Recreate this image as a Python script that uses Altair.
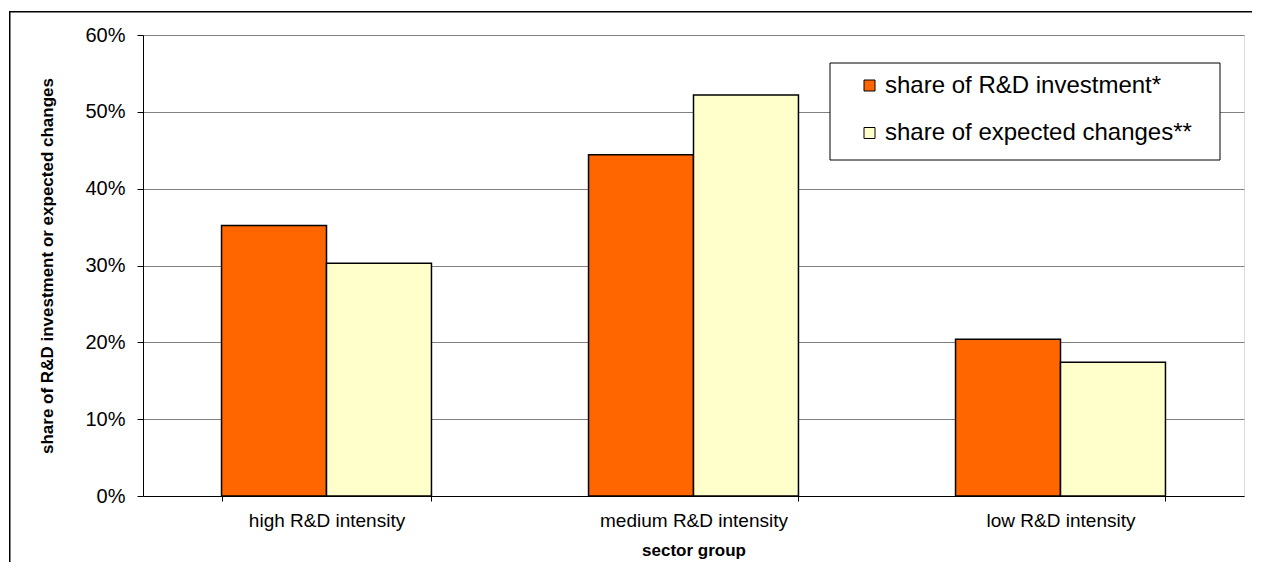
import altair as alt
import pandas as pd

# ---- data ----
categories = ["high R&D intensity", "medium R&D intensity", "low  R&D intensity"]
series = ["share of R&D investment*", "share of expected changes**"]
investment = [0.352, 0.444, 0.204]
expected = [0.303, 0.522, 0.174]
y_ticks = [0.0, 0.1, 0.2, 0.3, 0.4, 0.5, 0.6]
colors = ["#FF6600", "#FFFFCC"]

df = pd.DataFrame({
    "sector": categories * 2,
    "series": [series[0]] * len(categories) + [series[1]] * len(categories),
    "value": investment + expected,
})

W, H = 1101, 461
FONT = "Liberation Sans"

bars = alt.Chart(df).mark_bar(stroke="black", strokeWidth=1.5).encode(
    x=alt.X(
        "sector:N", sort=categories,
        scale=alt.Scale(paddingInner=0.428, paddingOuter=0.214),
        axis=alt.Axis(
            title="sector group", labelAngle=0, tickBand="extent", grid=False,
            domainColor="black", tickColor="black", tickSize=5, labelLimit=400,
            labelFontSize=19, labelPadding=10, labelColor="black", labelFont=FONT,
            titleFontSize=17, titleFontWeight="bold", titleFont=FONT, titleColor="black",
            titleX=W / 2, titleY=59, titleBaseline="alphabetic", titleAnchor="middle",
        ),
    ),
    xOffset=alt.XOffset("series:N", sort=series,
                        scale=alt.Scale(paddingInner=0, paddingOuter=0)),
    y=alt.Y(
        "value:Q",
        scale=alt.Scale(domain=[0, 0.6], nice=False),
        axis=alt.Axis(
            title="share of R&D investment or expected changes",
            values=y_ticks, format=".0%", grid=True, gridColor="#808080", gridWidth=1,
            domainColor="black", tickColor="black", tickSize=6,
            labelFontSize=20, labelPadding=12, labelColor="black", labelFont=FONT,
            titleFontSize=17, titleFontWeight="bold", titleFont=FONT, titleColor="black",
            titleX=-91, titleY=H / 2, titleAngle=270, titleBaseline="alphabetic",
            titleAlign="center",
        ),
    ),
    color=alt.Color("series:N", sort=series,
                    scale=alt.Scale(domain=series, range=colors), legend=None),
)

# outer frame (decoration): top and left edges only, the rest runs off the picture
one = pd.DataFrame({"a": [0]})
frame_top = alt.Chart(one).mark_rect(fill="black", strokeWidth=0).encode(
    x=alt.value(-134), x2=alt.value(W + 8), y=alt.value(-24), y2=alt.value(-22.5))
frame_left = alt.Chart(one).mark_rect(fill="black", strokeWidth=0).encode(
    x=alt.value(-134), x2=alt.value(-132.5), y=alt.value(-24), y2=alt.value(H + 66))

# legend box (manual)
leg_box = alt.Chart(one).mark_rect(
    fill="white", stroke="black", strokeWidth=1
).encode(x=alt.value(687), x2=alt.value(1077), y=alt.value(28), y2=alt.value(125))

leg_layers = []
row_y = [50.5, 98]
for i, name in enumerate(series):
    sw = alt.Chart(one).mark_rect(
        fill=colors[i], stroke="black", strokeWidth=1
    ).encode(x=alt.value(721), x2=alt.value(732),
             y=alt.value(row_y[i] - 5.5), y2=alt.value(row_y[i] + 5.5))
    tx = alt.Chart(one).mark_text(
        align="left", baseline="middle", font=FONT, fontSize=24, color="black"
    ).encode(x=alt.value(742), y=alt.value(row_y[i]), text=alt.value(name))
    leg_layers += [sw, tx]

chart = alt.layer(frame_top, frame_left, bars, leg_box, *leg_layers).properties(
    width=W, height=H,
    autosize=alt.AutoSizeParams(type="none"),
    padding={"left": 135, "top": 27, "right": 10, "bottom": 66},
).configure_view(stroke="black", strokeWidth=1).configure(background="white")

chart.save("out.html", embed_options={"renderer": "svg", "actions": False})
